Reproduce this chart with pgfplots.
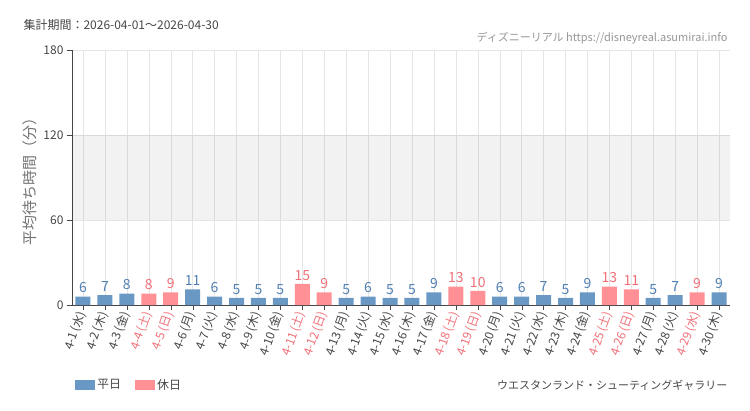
\documentclass[border=0pt]{standalone}
\usepackage{pgfplots}
\pgfplotsset{compat=1.18}
\usepackage{fontspec}
\setmainfont{Noto Sans CJK JP}
\definecolor{wk}{RGB}{106,152,197}
\definecolor{hol}{RGB}{255,145,150}
\definecolor{wklab}{RGB}{80,128,180}
\definecolor{hollab}{RGB}{240,112,120}
\definecolor{txt}{RGB}{70,70,70}
\definecolor{lite}{RGB}{150,150,150}
\definecolor{ylab}{RGB}{115,115,115}
\newcommand{\hd}[1]{\textcolor{hollab}{#1}}
\newcommand{\dl}[2]{#1\,(#2)}
\begin{document}
\begin{tikzpicture}
\path[use as bounding box] (0,0) rectangle (750pt,410pt);
\node[anchor=west, text=txt, font=\fontsize{12}{14}\selectfont] at (20pt,385pt) {集計期間：2026-04-01～2026-04-30};
\node[anchor=east, text=lite, font=\fontsize{11}{13}\selectfont] at (731pt,372pt) {ディズニーリアル https://disneyreal.asumirai.info};
\node[anchor=east, text=txt, font=\fontsize{11}{13}\selectfont] at (731pt,25pt) {ウエスタンランド・シューティングギャラリー};
\begin{axis}[
    at={(72pt,105pt)}, anchor=south west,
    scale only axis, width=658pt, height=255pt,
    xmin=-0.5, xmax=29.5, ymin=0, ymax=180,
    ytick={0,60,120,180},
    xtick={0,...,29},
    xticklabels={\dl{4-1}{水},\dl{4-2}{木},\dl{4-3}{金},\hd{\dl{4-4}{土}},\hd{\dl{4-5}{日}},\dl{4-6}{月},\dl{4-7}{火},\dl{4-8}{水},\dl{4-9}{木},\dl{4-10}{金},\hd{\dl{4-11}{土}},\hd{\dl{4-12}{日}},\dl{4-13}{月},\dl{4-14}{火},\dl{4-15}{水},\dl{4-16}{木},\dl{4-17}{金},\hd{\dl{4-18}{土}},\hd{\dl{4-19}{日}},\dl{4-20}{月},\dl{4-21}{火},\dl{4-22}{水},\dl{4-23}{木},\dl{4-24}{金},\hd{\dl{4-25}{土}},\hd{\dl{4-26}{日}},\dl{4-27}{月},\dl{4-28}{火},\hd{\dl{4-29}{水}},\dl{4-30}{木}},
    x tick label style={rotate=70, anchor=east, font=\fontsize{12}{14}\selectfont, text=txt, inner sep=2pt},
    y tick label style={font=\fontsize{12}{14}\selectfont, text=txt},
    /pgf/number format/assume math mode=true,
    axis lines=left, axis line style={-, txt},
    tick align=outside, major tick length=5pt,
    tick style={txt},
    xmajorgrids, ymajorgrids,
    grid style={gray!20},
    ylabel={平均待ち時間（分）},
    ylabel style={font=\fontsize{15}{17}\selectfont, text=ylab},
    ybar, bar width=15pt,
    nodes near coords,
    legend columns=2,
    legend style={at={(axis description cs:0,-0.314)}, anchor=west, draw=none, fill=none,
        font=\fontsize{12}{14}\selectfont, text=txt, /tikz/every even column/.append style={column sep=12pt}},
    legend image code/.code={\fill[#1] (0pt,-5pt) rectangle (20pt,5pt);},
]
\fill[black, opacity=0.05] (axis cs:-0.5,60) rectangle (axis cs:29.5,120);
\addplot[fill=wk, draw=none, bar shift=0pt,
    every node near coord/.append style={text=wklab, font=\fontsize{14}{16}\selectfont}] coordinates {
    (0,6) (1,7) (2,8) (5,11) (6,6) (7,5) (8,5) (9,5) (12,5) (13,6) (14,5) (15,5) (16,9)
    (19,6) (20,6) (21,7) (22,5) (23,9) (26,5) (27,7) (29,9)
};
\addlegendentry{平日}
\addplot[fill=hol, draw=none, bar shift=0pt,
    every node near coord/.append style={text=hollab, font=\fontsize{14}{16}\selectfont}] coordinates {
    (3,8) (4,9) (10,15) (11,9) (17,13) (18,10) (24,13) (25,11) (28,9)
};
\addlegendentry{休日}
\end{axis}
\end{tikzpicture}
\end{document}
